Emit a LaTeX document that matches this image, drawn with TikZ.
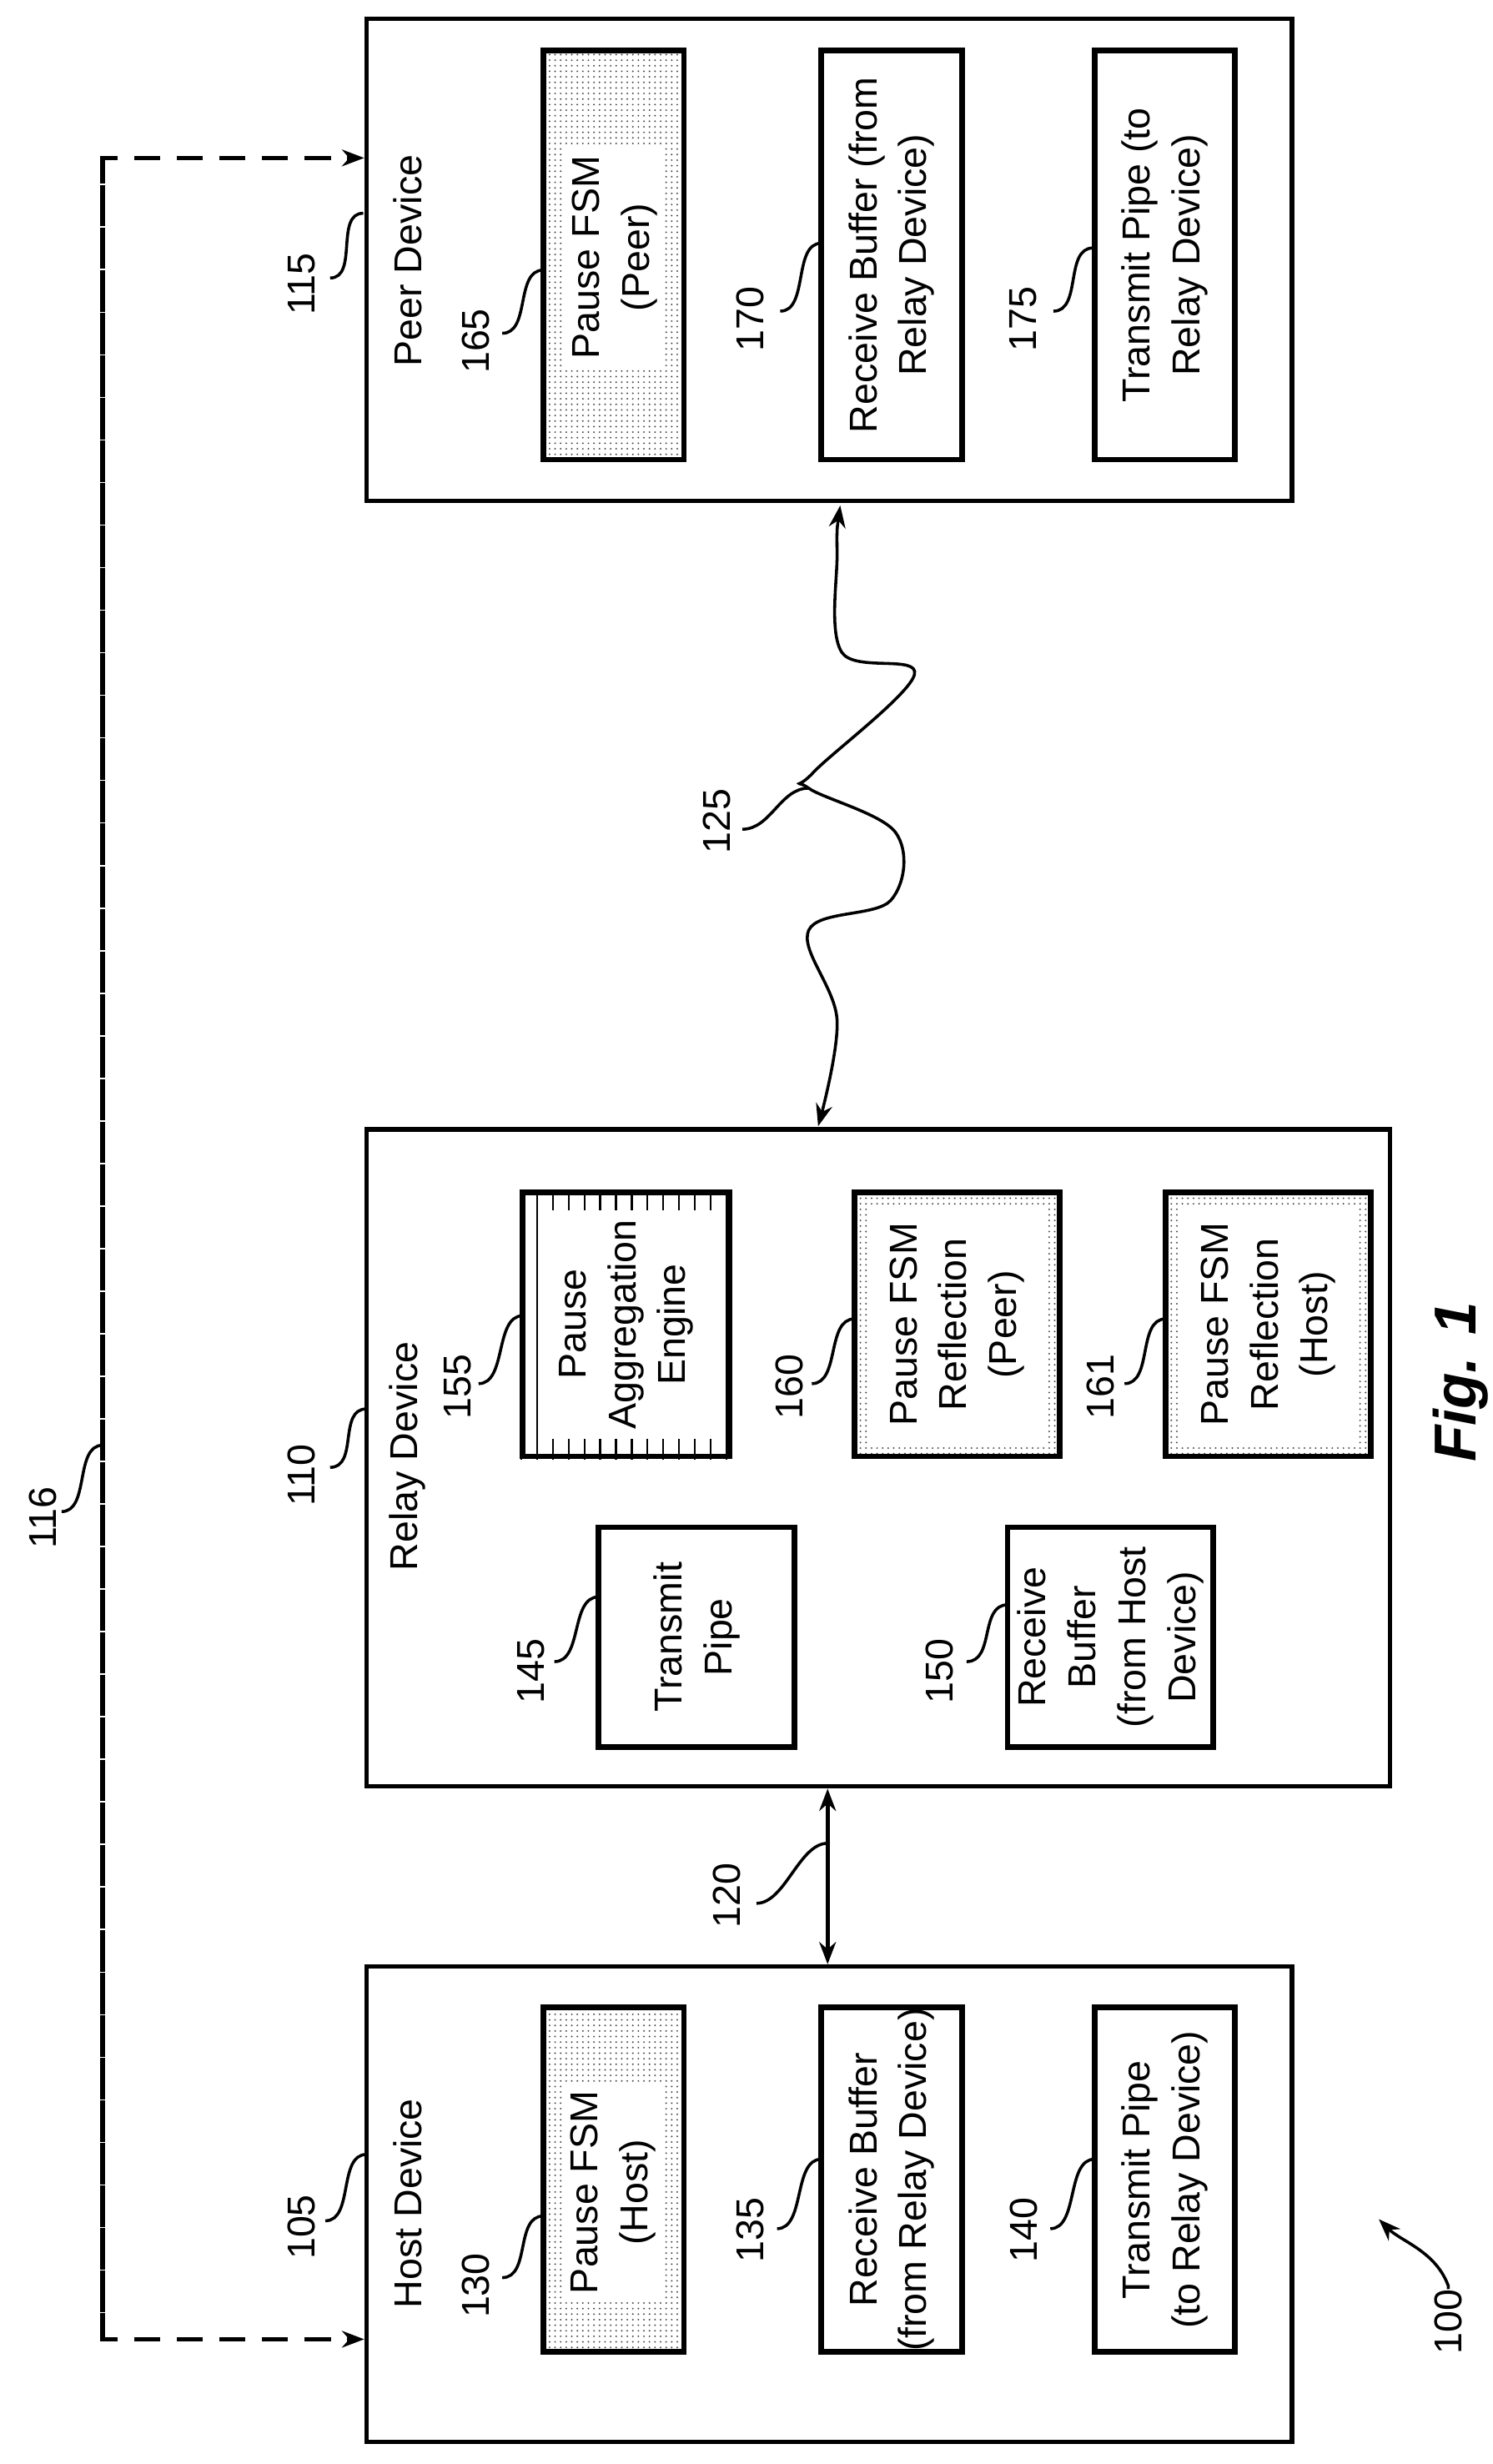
\documentclass[tikz,border=0pt]{standalone}
\usepackage{fontspec}
\setmainfont{Liberation Sans}
\usetikzlibrary{arrows.meta,patterns,calc}
\def\px{0.03cm}
\tikzset{>={Stealth[length=12pt,width=9pt]}}
\newcommand{\leader}[2]{\draw[line width=1.6pt] (#1) .. controls ($(#1)+(18,0)$) and ($(#2)+(-18,0)$) .. (#2);}
\begin{document}
\begin{tikzpicture}[x=\px, y=-\px,
  box/.style = {draw, line width=2.4pt, inner sep=0pt, fill=white},
  inbox/.style = {draw, line width=3pt, inner sep=0pt, fill=white},
  dotted box/.style = {inbox, pattern=dots, pattern color=black!70},
  blank/.style = {fill=white, draw=none, inner sep=0pt},
  txt/.style = {rotate=90, align=center, font=\fontsize{21}{27}\selectfont, inner sep=0pt},
  num/.style = {rotate=90, font=\fontsize{21}{27}\selectfont, inner sep=0pt}]
\useasboundingbox (0,0) rectangle (945,1560);
% devices
\node[box, minimum width=586*\px, minimum height=305*\px] (peer) at (525,164.5) {};
\node[box, minimum width=648*\px, minimum height=416*\px] (relay) at (556,923) {};
\node[box, minimum width=586*\px, minimum height=301*\px] (host) at (525,1395.5) {};
\node[txt] (peerT) at (258,165) {Peer Device};
\node[txt] (relayT) at (258,922) {Relay Device};
\node[txt] (hostT) at (258,1395) {Host Device};
% peer device blocks
\node[dotted box, minimum width=89*\px, minimum height=259*\px] (pfp) at (388.5,161.5) {};
\node[blank, minimum width=64*\px, minimum height=140*\px] (pfpW) at (389,163) {};
\node[txt] (pfpT) at (pfpW) {Pause FSM\\(Peer)};
\node[inbox, minimum width=89*\px, minimum height=259*\px] (prb) at (564.5,161.5) {};
\node[txt] (prbT) at (prb) {Receive Buffer (from\\Relay Device)};
\node[inbox, minimum width=89*\px, minimum height=259*\px] (ptp) at (737.5,161.5) {};
\node[txt] (ptpT) at (ptp) {Transmit Pipe (to\\Relay Device)};
% relay device blocks
\node[inbox, minimum width=131*\px, minimum height=167*\px] (agg) at (396.5,838.5) {};
\begin{scope}
  \clip (agg.south west) rectangle (agg.north east);
  \draw[line width=1pt, step=10] (300,700) grid (500,950);
\end{scope}
\node[draw, line width=3pt, minimum width=131*\px, minimum height=167*\px] (aggF) at (agg) {};
\node[blank, minimum width=109*\px, minimum height=145*\px] (aggW) at (agg) {};
\node[txt] (aggT) at (agg) {Pause\\Aggregation\\Engine};
\node[dotted box, minimum width=130*\px, minimum height=167*\px] (rfp) at (606,838.5) {};
\node[blank, minimum width=114*\px, minimum height=151*\px] (rfpW) at (rfp) {};
\node[txt] (rfpT) at (rfp) {Pause FSM\\Reflection\\(Peer)};
\node[dotted box, minimum width=130*\px, minimum height=167*\px] (rfh) at (803,838.5) {};
\node[blank, minimum width=114*\px, minimum height=151*\px] (rfhW) at (rfh) {};
\node[txt] (rfhT) at (rfh) {Pause FSM\\Reflection\\(Host)};
\node[inbox, minimum width=124*\px, minimum height=139*\px] (rtp) at (441,1036.5) {};
\node[txt] (rtpT) at (rtp) {Transmit\\Pipe};
\node[inbox, minimum width=130*\px, minimum height=139*\px] (rrb) at (703,1036.5) {};
\node[txt] (rrbT) at (rrb) {Receive\\Buffer\\(from Host\\Device)};
% host device blocks
\node[dotted box, minimum width=89*\px, minimum height=218*\px] (hfp) at (388.5,1380) {};
\node[blank, minimum width=64*\px, minimum height=139*\px] (hfpW) at (388,1388) {};
\node[txt] (hfpT) at (hfpW) {Pause FSM\\(Host)};
\node[inbox, minimum width=89*\px, minimum height=218*\px] (hrb) at (564.5,1380) {};
\node[txt] (hrbT) at (hrb) {Receive Buffer\\(from Relay Device)};
\node[inbox, minimum width=89*\px, minimum height=218*\px] (htp) at (737.5,1380) {};
\node[txt] (htpT) at (htp) {Transmit Pipe\\(to Relay Device)};
% links
\draw[<->, line width=2.4pt] (relay.south -| 524,0) -- (host.north -| 524,0);
\draw[<->, line width=1.6pt] plot[smooth, tension=0.6] coordinates {(532,320) (530,351) (533,413) (579,427) (515,489) (512,499) (567,527) (564,570) (512,589) (530,646) (518,713)};
\coordinate (dTop) at (65,100);
\coordinate (dBot) at (65,1481);
\draw[->, dashed, line width=2.4pt, dash pattern=on 14pt off 9pt] (dBot) -- (dTop) -- (peer.west |- dTop);
\draw[->, dashed, line width=2.4pt, dash pattern=on 14pt off 9pt] (dTop) -- (dBot) -- (host.west |- dBot);
% reference numerals
\node[num] (n115) at (191,180) {115};  \leader{209,176}{230,135}
\node[num] (n165) at (301,216) {165};  \leader{318,211}{344,171}
\node[num] (n170) at (475,202) {170};  \leader{494,197}{520,154}
\node[num] (n175) at (648,202) {175};  \leader{667,197}{692,157}
\node[num] (n125) at (454,520) {125};  \leader{470,525}{512,499}
\node[num] (n110) at (191,934) {110};  \leader{209,929}{232,892}
\node[num] (n155) at (290,878) {155};  \leader{303,876}{331,833}
\node[num] (n160) at (500,878) {160};  \leader{514,876}{541,835}
\node[num] (n161) at (697,878) {161};  \leader{712,876}{738,835}
\node[num] (n145) at (336,1058) {145}; \leader{351,1052}{379,1011}
\node[num] (n150) at (595,1058) {150}; \leader{612,1052}{638,1016}
\node[num] (n116) at (27,961) {116};   \leader{39,957}{65,915}
\node[num] (n120) at (460,1200) {120}; \leader{479,1205}{524,1167}
\node[num] (n105) at (191,1410) {105}; \leader{206,1406}{232,1364}
\node[num] (n130) at (301,1447) {130}; \leader{318,1442}{344,1403}
\node[num] (n135) at (475,1412) {135}; \leader{492,1411}{520,1367}
\node[num] (n140) at (648,1412) {140}; \leader{665,1411}{693,1367}
\node[num] (n100) at (917,1470) {100};
\draw[->, line width=1.6pt] (n100.east) -- ++(0,-2) .. controls ++(-8,-22) and ++(14,14) .. (873,1405);
\node[rotate=90, font=\fontsize{32}{36}\selectfont\bfseries\itshape] (fig) at (925,875) {Fig. 1};
\end{tikzpicture}
\end{document}
